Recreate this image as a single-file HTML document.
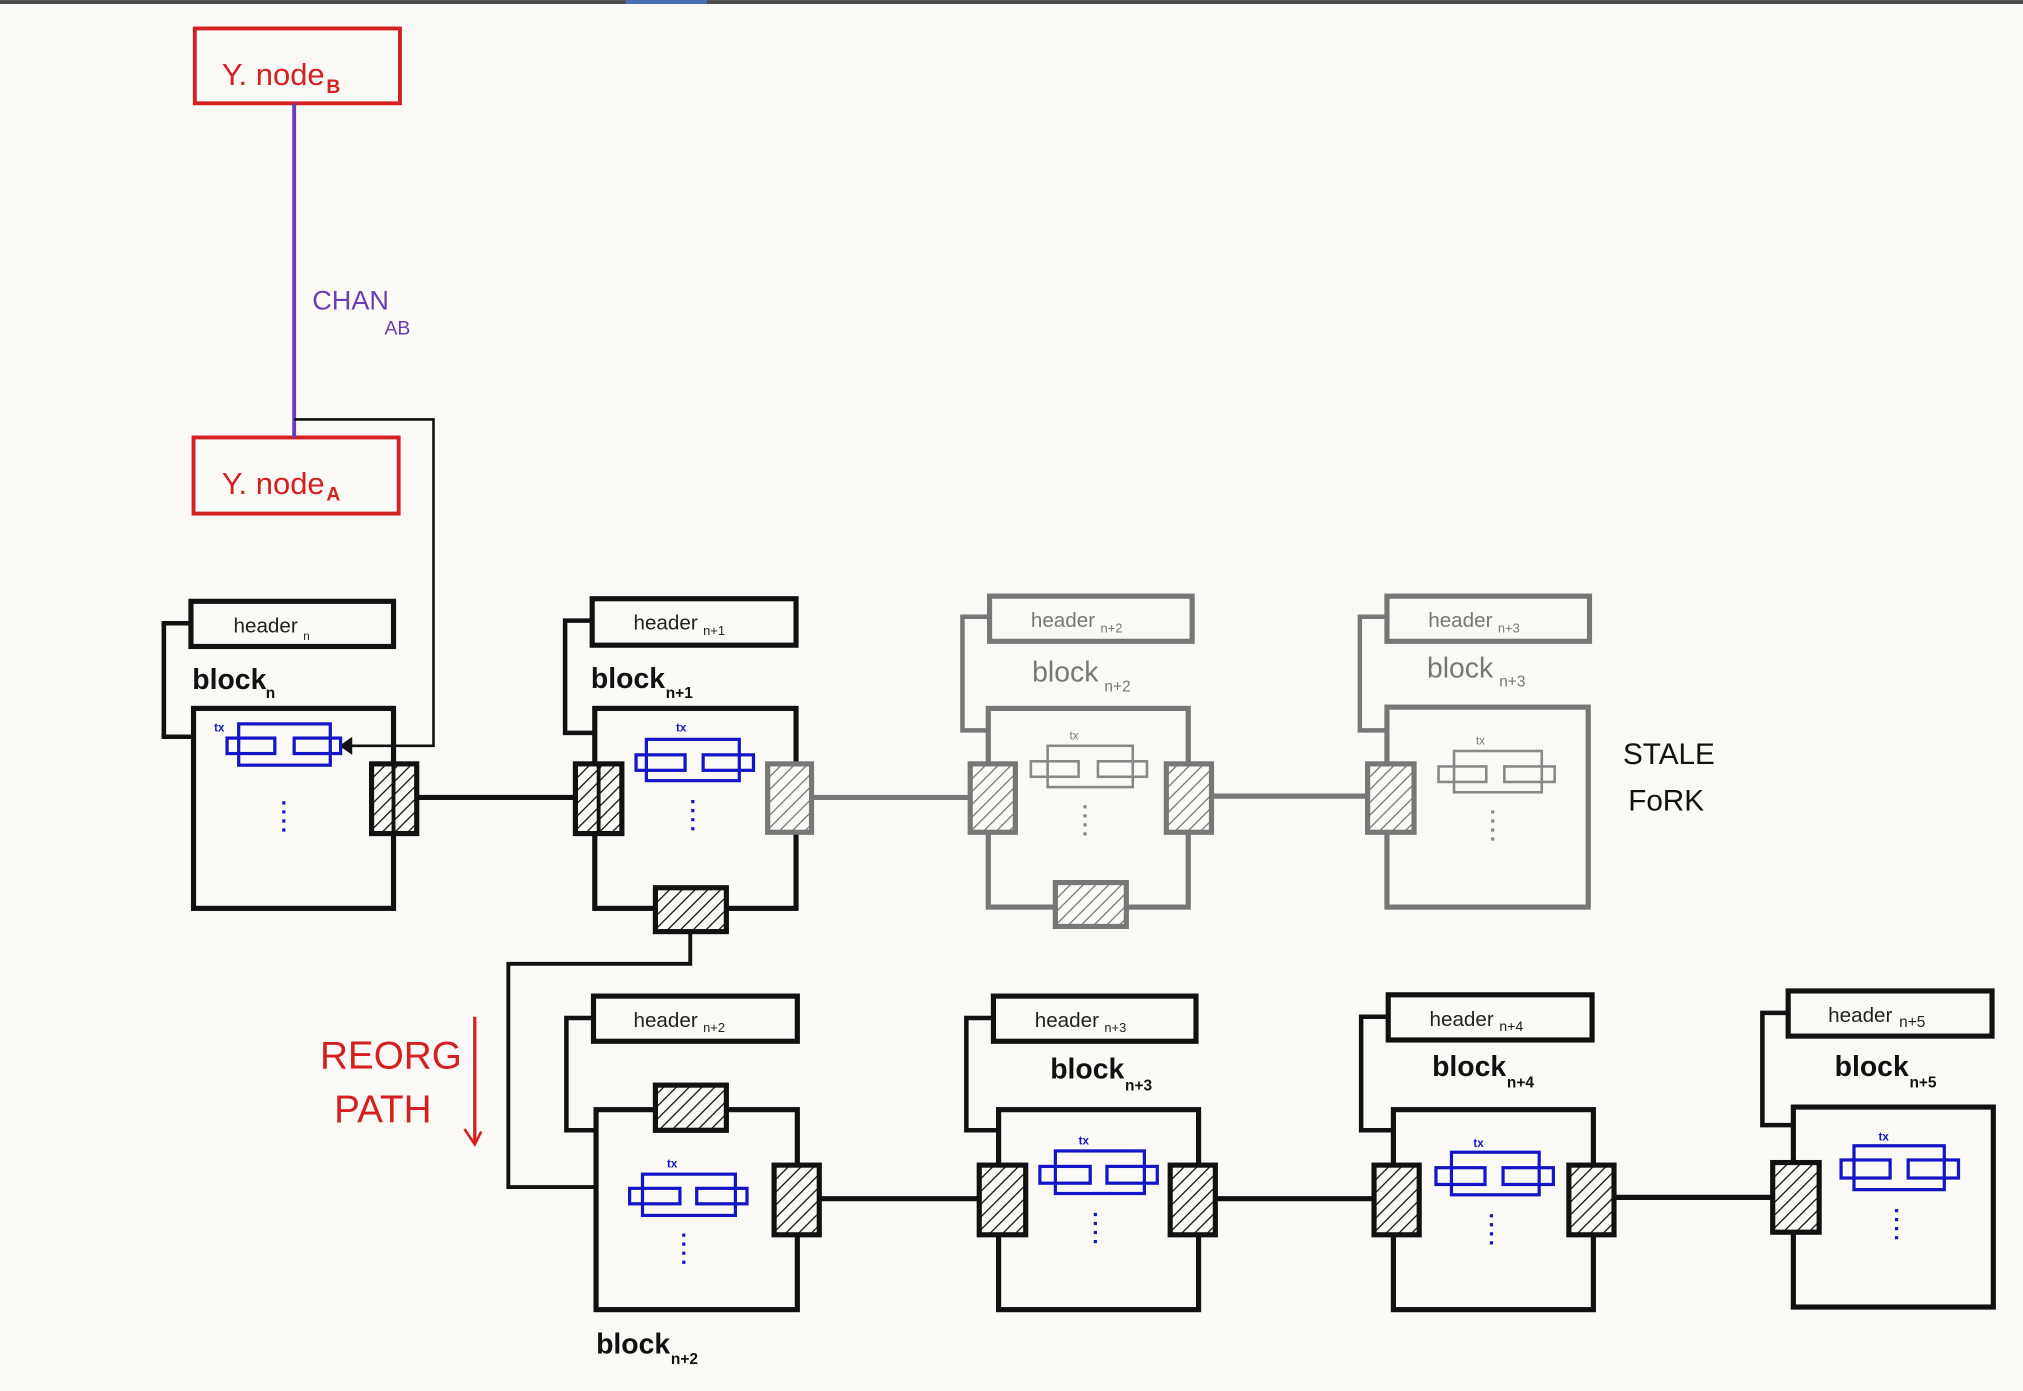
<!DOCTYPE html>
<html><head><meta charset="utf-8"><style>
html,body{margin:0;padding:0;background:#fbf9f5;}
svg{display:block;}
text{font-family:"Liberation Sans",sans-serif;}
</style></head><body>
<svg width="2023" height="1391" viewBox="0 0 1568 1078" xmlns="http://www.w3.org/2000/svg">
<defs>
<pattern id="hk" patternUnits="userSpaceOnUse" width="7" height="7" patternTransform="rotate(45)">
<rect width="7" height="7" fill="#fbf9f5"/><line x1="0" y1="0" x2="0" y2="7" stroke="#111" stroke-width="2"/></pattern>
<pattern id="hg" patternUnits="userSpaceOnUse" width="7" height="7" patternTransform="rotate(45)">
<rect width="7" height="7" fill="#fbf9f5"/><line x1="0" y1="0" x2="0" y2="7" stroke="#777" stroke-width="2"/></pattern>
</defs>
<rect width="1568" height="1078" fill="#fbf9f5"/>
<rect x="0" y="0" width="1568" height="3" fill="#4a4a4a"/>
<rect x="485" y="0" width="63" height="3" fill="#4a6fb0"/>

<!-- nodes -->
<g fill="none" stroke="#d42020" stroke-width="3">
<rect x="151" y="22" width="159" height="58"/>
<rect x="150" y="339" width="159" height="59"/>
</g>
<text x="172" y="66" font-size="24" fill="#d42020">Y. node</text><text x="253" y="72" font-size="15" fill="#d42020" font-weight="bold">B</text>
<text x="172" y="383" font-size="24" fill="#d42020">Y. node</text><text x="253" y="388" font-size="15" fill="#d42020" font-weight="bold">A</text>
<line x1="228" y1="80" x2="228" y2="339" stroke="#6a3fb0" stroke-width="3"/>
<text x="242" y="240" font-size="21" fill="#6a3fb0">CHAN</text><text x="298" y="259" font-size="15" fill="#6a3fb0">AB</text>
<polyline points="228,325 336,325 336,578 270,578" fill="none" stroke="#111" stroke-width="2"/>
<polygon points="263,578 273,571 273,585" fill="#111"/>

<!-- connectors -->
<g fill="none" stroke-width="4">
<line x1="323" y1="618" x2="446" y2="618" stroke="#111"/>
<line x1="629" y1="618" x2="752" y2="618" stroke="#777"/>
<line x1="939" y1="617" x2="1060" y2="617" stroke="#777"/>
<polyline points="535,722 535,747 394,747 394,920 462,920" stroke="#111" stroke-width="3"/>
<line x1="635" y1="929" x2="759" y2="929" stroke="#111"/>
<line x1="942" y1="929" x2="1065" y2="929" stroke="#111"/>
<line x1="1251" y1="928" x2="1374" y2="928" stroke="#111"/>
</g>

<g stroke="#111" fill="none">
<rect x="148" y="466" width="157" height="35" stroke-width="4"/>
<polyline points="148,483 127,483 127,571 150,571" stroke-width="3.5"/>
<rect x="150" y="549" width="155" height="155" stroke-width="4"/>
<rect x="459" y="464" width="158" height="36" stroke-width="4"/>
<polyline points="459,481 438,481 438,568 461,568" stroke-width="3.5"/>
<rect x="461" y="549" width="156" height="155" stroke-width="4"/>
<rect x="460" y="772" width="158" height="35" stroke-width="4"/>
<polyline points="460,789 439,789 439,876 462,876" stroke-width="3.5"/>
<rect x="462" y="860" width="156" height="155" stroke-width="4"/>
<rect x="770" y="772" width="157" height="35" stroke-width="4"/>
<polyline points="770,789 749,789 749,876 774,876" stroke-width="3.5"/>
<rect x="774" y="860" width="155" height="155" stroke-width="4"/>
<rect x="1076" y="771" width="158" height="35" stroke-width="4"/>
<polyline points="1076,788 1055,788 1055,876 1080,876" stroke-width="3.5"/>
<rect x="1080" y="860" width="155" height="155" stroke-width="4"/>
<rect x="1386" y="768" width="158" height="35" stroke-width="4"/>
<polyline points="1386,785 1366,785 1366,872 1390,872" stroke-width="3.5"/>
<rect x="1390" y="858" width="155" height="155" stroke-width="4"/>
</g>
<g stroke="#777" fill="none">
<rect x="767" y="462" width="157" height="35" stroke-width="4"/>
<polyline points="767,478 746,478 746,566 766,566" stroke-width="3.5"/>
<rect x="766" y="549" width="155" height="154" stroke-width="4"/>
<rect x="1075" y="462" width="157" height="35" stroke-width="4"/>
<polyline points="1075,478 1054,478 1054,566 1075,566" stroke-width="3.5"/>
<rect x="1075" y="548" width="156" height="155" stroke-width="4"/>
</g>

<!-- ports -->
<g stroke="#111" stroke-width="4" fill="url(#hk)">
<rect x="288" y="592" width="35" height="54"/>
<rect x="446" y="592" width="36" height="54"/>
<rect x="508" y="688" width="55" height="34"/>
<rect x="508" y="841" width="55" height="35"/>
<rect x="600" y="903" width="35" height="54"/>
<rect x="759" y="903" width="36" height="54"/>
<rect x="907" y="903" width="35" height="54"/>
<rect x="1065" y="903" width="35" height="54"/>
<rect x="1216" y="903" width="35" height="54"/>
<rect x="1374" y="901" width="36" height="54"/>
</g>
<g stroke="#777" stroke-width="4" fill="url(#hg)">
<rect x="595" y="592" width="34" height="53"/>
<rect x="752" y="592" width="35" height="53"/>
<rect x="904" y="592" width="35" height="53"/>
<rect x="818" y="684" width="55" height="34"/>
<rect x="1060" y="592" width="36" height="53"/>
</g>
<line x1="305" y1="592" x2="305" y2="646" stroke="#111" stroke-width="3"/>
<line x1="464" y1="592" x2="464" y2="646" stroke="#111" stroke-width="3"/>

<!-- tx -->
<g fill="none" stroke="#1515c8" stroke-width="2.5">
<rect x="185" y="561" width="71" height="32"/><rect x="176" y="572" width="37" height="12"/><rect x="228" y="572" width="36" height="12"/>
<rect x="501" y="573" width="72" height="32"/><rect x="493" y="585" width="38" height="12"/><rect x="545" y="585" width="39" height="12"/>
<rect x="498" y="910" width="72" height="32"/><rect x="488" y="921" width="39" height="12"/><rect x="540" y="921" width="39" height="12"/>
<rect x="818" y="892" width="69" height="33"/><rect x="806" y="904" width="39" height="13"/><rect x="858" y="904" width="39" height="13"/>
<rect x="1125" y="893" width="68" height="33"/><rect x="1113" y="905" width="38" height="13"/><rect x="1165" y="905" width="39" height="13"/>
<rect x="1437" y="888" width="70" height="34"/><rect x="1427" y="899" width="38" height="14"/><rect x="1479" y="899" width="39" height="14"/>
</g>
<g fill="none" stroke="#888" stroke-width="2">
<rect x="812" y="578" width="66" height="32"/><rect x="799" y="590" width="37" height="12"/><rect x="851" y="590" width="38" height="12"/>
<rect x="1127" y="582" width="68" height="32"/><rect x="1115" y="594" width="37" height="12"/><rect x="1166" y="594" width="39" height="12"/>
</g>
<g font-size="9" fill="#1515c8" font-weight="bold">
<text x="166" y="567">tx</text><text x="524" y="567">tx</text><text x="517" y="905">tx</text><text x="836" y="887">tx</text><text x="1142" y="889">tx</text><text x="1456" y="884">tx</text>
</g>
<g font-size="9" fill="#777"><text x="829" y="573">tx</text><text x="1144" y="577">tx</text></g>
<g stroke-width="2.5" stroke-dasharray="2.5 4.5">
<line x1="220" y1="621" x2="220" y2="647" stroke="#1515c8"/>
<line x1="537" y1="620" x2="537" y2="646" stroke="#1515c8"/>
<line x1="530" y1="956" x2="530" y2="982" stroke="#1515c8"/>
<line x1="849" y1="940" x2="849" y2="966" stroke="#1515c8"/>
<line x1="1156" y1="941" x2="1156" y2="967" stroke="#1515c8"/>
<line x1="1470" y1="937" x2="1470" y2="963" stroke="#1515c8"/>
<line x1="841" y1="624" x2="841" y2="650" stroke="#888"/>
<line x1="1157" y1="628" x2="1157" y2="654" stroke="#888"/>
</g>

<!-- labels -->
<g font-size="16" fill="#222">
<text x="181" y="490">header</text><text x="235" y="496" font-size="9">n</text>
<text x="491" y="488">header</text><text x="545" y="492" font-size="10">n+1</text>
<text x="491" y="796">header</text><text x="545" y="800" font-size="10">n+2</text>
<text x="802" y="796">header</text><text x="856" y="800" font-size="10">n+3</text>
<text x="1108" y="795">header</text><text x="1162" y="799" font-size="11">n+4</text>
<text x="1417" y="792">header</text><text x="1472" y="796" font-size="12">n+5</text>
</g>
<g font-size="16" fill="#777">
<text x="799" y="486">header</text><text x="853" y="490" font-size="10">n+2</text>
<text x="1107" y="486">header</text><text x="1161" y="490" font-size="10">n+3</text>
</g>
<g font-size="22" fill="#111" font-weight="bold">
<text x="149" y="534">block</text><text x="206" y="541" font-size="12">n</text>
<text x="458" y="533">block</text><text x="516" y="541" font-size="12">n+1</text>
<text x="462" y="1049">block</text><text x="520" y="1057" font-size="12">n+2</text>
<text x="814" y="836">block</text><text x="872" y="845" font-size="12">n+3</text>
<text x="1110" y="834">block</text><text x="1168" y="843" font-size="12">n+4</text>
<text x="1422" y="834">block</text><text x="1480" y="843" font-size="12">n+5</text>
</g>
<g font-size="22" fill="#777">
<text x="800" y="528">block</text><text x="856" y="536" font-size="12">n+2</text>
<text x="1106" y="525">block</text><text x="1162" y="532" font-size="12">n+3</text>
</g>
<text x="1258" y="592" font-size="23" fill="#111">STALE</text>
<text x="1262" y="628" font-size="23" fill="#111">FoRK</text>
<text x="248" y="828" font-size="30" fill="#d42020">REORG</text>
<text x="259" y="870" font-size="30" fill="#d42020">PATH</text>
<line x1="368" y1="788" x2="368" y2="886" stroke="#d42020" stroke-width="2.5"/>
<polyline points="360,875 368,887 373,877" fill="none" stroke="#d42020" stroke-width="2"/>
</svg>
</body></html>
